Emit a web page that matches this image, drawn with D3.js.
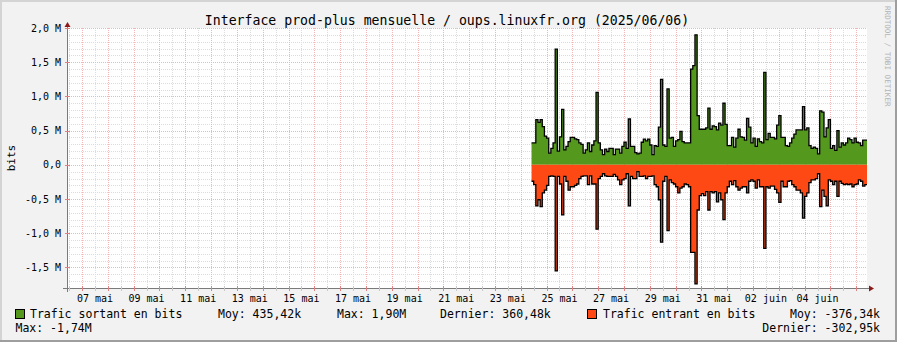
<!DOCTYPE html>
<html><head><meta charset="utf-8">
<script src="https://cdn.jsdelivr.net/npm/d3@7"></script>
<style>
body{margin:0;background:#F2F2F2}
svg{display:block}
text{font-family:"DejaVu Sans Mono",monospace;fill:#000}
</style>
</head><body>
<svg id="chart" width="897" height="342"></svg>
<script>
// ---------- data ----------
const chartTitle = "Interface prod-plus mensuelle / oups.linuxfr.org (2025/06/06)";
const yAxisTitle = "bits";
const watermark = "RRDTOOL / TOBI OETIKER";
const rangeStart = "2025-05-06T10:00:00Z";
const rangeEnd = "2025-06-06T10:00:00Z";
const firstSample = "2025-05-24T10:00:00Z";
const stepHours = 2;
// outgoing traffic, Mbit/s, one value per 2-hour step
const outValues = [
0.32,0.32,0.66,0.62,0.66,0.56,0.42,0.39,0.17,0.24,0.32,1.69,0.20,0.41,0.81,0.22,0.27,0.34,0.40,0.40,
0.38,0.37,0.32,0.30,0.17,0.22,0.32,0.195,0.29,0.35,1.06,0.32,0.22,0.15,0.23,0.195,0.24,0.24,0.15,0.23,
0.23,0.17,0.27,0.33,0.24,0.67,0.27,0.27,0.18,0.16,0.17,0.33,0.375,0.35,0.375,0.29,0.15,0.28,0.27,0.55,
1.25,0.29,0.27,1.11,0.39,0.40,0.27,0.35,0.37,0.49,0.34,0.32,0.32,0.32,1.40,1.45,1.90,0.72,0.52,0.52,
0.52,0.54,0.83,0.52,0.57,0.56,0.51,0.61,0.58,0.90,0.59,0.28,0.28,0.40,0.26,0.39,0.52,0.41,0.40,0.36,
0.68,0.55,0.32,0.39,0.27,0.38,0.34,0.32,1.35,0.37,0.46,0.40,0.40,0.38,0.58,0.72,0.40,0.40,0.28,0.27,
0.32,0.39,0.45,0.51,0.51,0.51,0.85,0.51,0.54,0.28,0.24,0.26,0.24,0.16,0.79,0.77,0.41,0.54,0.66,0.24,
0.28,0.21,0.50,0.26,0.32,0.29,0.32,0.39,0.37,0.32,0.39,0.33,0.32,0.28,0.36,0.36];
// incoming traffic (drawn negative), Mbit/s
const inValues = [
-0.24,-0.29,-0.60,-0.51,-0.61,-0.41,-0.37,-0.30,-0.17,-0.16,-0.17,-1.55,-0.17,-0.28,-0.73,-0.17,-0.24,-0.37,-0.32,-0.32,
-0.30,-0.28,-0.20,-0.17,-0.16,-0.16,-0.29,-0.16,-0.28,-0.28,-0.94,-0.20,-0.17,-0.13,-0.16,-0.17,-0.17,-0.17,-0.14,-0.17,
-0.22,-0.29,-0.22,-0.20,-0.13,-0.60,-0.17,-0.20,-0.20,-0.10,-0.17,-0.17,-0.16,-0.20,-0.17,-0.17,-0.16,-0.29,-0.32,-0.51,
-1.13,-0.24,-0.17,-0.96,-0.22,-0.26,-0.28,-0.32,-0.41,-0.34,-0.32,-0.28,-0.29,-0.32,-1.28,-1.28,-1.74,-0.66,-0.45,-0.42,
-0.45,-0.39,-0.66,-0.39,-0.41,-0.39,-0.54,-0.41,-0.51,-0.80,-0.41,-0.32,-0.24,-0.29,-0.23,-0.32,-0.37,-0.34,-0.32,-0.32,
-0.41,-0.24,-0.22,-0.24,-0.34,-0.22,-0.32,-0.32,-1.22,-0.32,-0.34,-0.31,-0.31,-0.36,-0.41,-0.55,-0.24,-0.32,-0.32,-0.24,
-0.23,-0.29,-0.32,-0.37,-0.37,-0.41,-0.78,-0.46,-0.41,-0.26,-0.22,-0.22,-0.20,-0.13,-0.61,-0.37,-0.46,-0.60,-0.22,-0.24,
-0.29,-0.24,-0.46,-0.24,-0.27,-0.29,-0.28,-0.29,-0.28,-0.32,-0.29,-0.28,-0.22,-0.24,-0.31,-0.29];
const yTickValues = [2.0,1.5,1.0,0.5,0,-0.5,-1.0,-1.5];
const yTickLabels = ["2,0 M","1,5 M","1,0 M","0,5 M","0,0","-0,5 M","-1,0 M","-1,5 M"];
const xTickDays = ["2025-05-07","2025-05-09","2025-05-11","2025-05-13","2025-05-15","2025-05-17","2025-05-19","2025-05-21",
                   "2025-05-23","2025-05-25","2025-05-27","2025-05-29","2025-05-31","2025-06-02","2025-06-04"];
const xTickLabels = ["07 mai","09 mai","11 mai","13 mai","15 mai","17 mai","19 mai","21 mai",
                     "23 mai","25 mai","27 mai","29 mai","31 mai","02 juin","04 juin"];
const seriesNames = ["Trafic sortant en bits","Trafic entrant en bits"];
const seriesColors = ["#54991E","#FF4915"];
const statsOut = ["Moy: 435,42k","Max: 1,90M","Dernier: 360,48k"];
const statsIn = ["Moy: -376,34k","Max: -1,74M","Dernier: -302,95k"];

// ---------- layout ----------
const W = 897, H = 342;
const plot = {left:67, right:867, top:28, bottom:288};
const svg = d3.select("#chart");

const x = d3.scaleUtc().domain([new Date(rangeStart), new Date(rangeEnd)]).range([plot.left, plot.right]);
const y = d3.scaleLinear().domain([-1.8, 2.0]).range([plot.bottom, plot.top]);
const px = v => Math.round(v) + 0.5;

// background + 3D border
svg.append("rect").attr("width",W).attr("height",H).attr("fill","#F2F2F2");
svg.append("rect").attr("x",0).attr("y",0).attr("width",W).attr("height",2).attr("fill","#D4D4D4");
svg.append("rect").attr("x",0).attr("y",0).attr("width",2).attr("height",H).attr("fill","#D4D4D4");
svg.append("rect").attr("x",0).attr("y",H-2).attr("width",W).attr("height",2).attr("fill","#9E9E9E");
svg.append("rect").attr("x",W-2).attr("y",0).attr("width",2).attr("height",H).attr("fill","#9E9E9E");

// canvas
svg.append("rect").attr("x",plot.left).attr("y",plot.top)
  .attr("width",plot.right-plot.left).attr("height",plot.bottom-plot.top).attr("fill","#FFFFFF");

// grid
const grid = svg.append("g").attr("stroke-dasharray","1,1").attr("stroke-width",1).attr("fill","none");
const minorY = d3.range(-17,21).map(k=>k/10).filter(v=>Math.abs(Math.round(v*10)%5)!==0);
const majorY = d3.range(-3,5).map(k=>k/2);
grid.selectAll(".hmin").data(minorY).enter().append("line")
  .attr("x1",plot.left).attr("x2",plot.right).attr("y1",d=>px(y(d))).attr("y2",d=>px(y(d)))
  .attr("stroke","#DCDCDC");
const tStart = new Date(rangeStart), tEnd = new Date(rangeEnd);
const halfDays = d3.utcHour.every(12).range(tStart, tEnd).filter(t=>t>tStart);
const noons = halfDays.filter(t=>t.getUTCHours()===12);
const midnights = halfDays.filter(t=>t.getUTCHours()===0);
grid.selectAll(".vmin").data(noons).enter().append("line")
  .attr("x1",d=>px(x(d))).attr("x2",d=>px(x(d))).attr("y1",plot.top).attr("y2",plot.bottom)
  .attr("stroke","#DCDCDC");
grid.selectAll(".vmaj").data(midnights).enter().append("line")
  .attr("x1",d=>px(x(d))).attr("x2",d=>px(x(d))).attr("y1",plot.top).attr("y2",plot.bottom)
  .attr("stroke","#F2B4B4");
grid.selectAll(".hmaj").data(majorY).enter().append("line")
  .attr("x1",plot.left).attr("x2",plot.right).attr("y1",d=>px(y(d))).attr("y2",d=>px(y(d)))
  .attr("stroke","#F2B4B4");

// data
const t0 = new Date(firstSample).getTime();
function toSteps(vals){
  const pts = vals.map((v,i)=>({t:new Date(t0+i*stepHours*3600e3), v}));
  pts.push({t:new Date(t0+vals.length*stepHours*3600e3), v:vals[vals.length-1]});
  return pts;
}
const area = d3.area().x(d=>x(d.t)).y0(y(0)).y1(d=>y(d.v)).curve(d3.curveStepAfter);
const line = d3.line().x(d=>x(d.t)).y(d=>y(d.v)).curve(d3.curveStepAfter);
[outValues,inValues].forEach((vals,k)=>{
  const pts = toSteps(vals);
  svg.append("path").attr("d",area(pts)).attr("fill",seriesColors[k]);
});
[outValues,inValues].forEach((vals,k)=>{
  const pts = toSteps(vals);
  svg.append("path").attr("d",line(pts)).attr("fill","none").attr("stroke","#000").attr("stroke-width",1.3);
});

// axes
const axisColor = "#7A7A7A", arrowColor = "#8C1A1A";
svg.append("line").attr("x1",plot.left-4).attr("x2",plot.right+4).attr("y1",plot.bottom+0.5).attr("y2",plot.bottom+0.5)
  .attr("stroke",axisColor);
svg.append("line").attr("x1",plot.left+0.5).attr("x2",plot.left+0.5).attr("y1",plot.bottom+4).attr("y2",plot.top-4)
  .attr("stroke",axisColor);
svg.append("path").attr("d",`M${plot.right+2},${plot.bottom-2.5}L${plot.right+7},${plot.bottom+0.5}L${plot.right+2},${plot.bottom+3.5}Z`).attr("fill",arrowColor);
svg.append("path").attr("d",`M${plot.left-2.5},${plot.top-1}L${plot.left+0.5},${plot.top-6}L${plot.left+3.5},${plot.top-1}Z`).attr("fill",arrowColor);
// x ticks
svg.selectAll(".xt").data(halfDays).enter().append("line")
  .attr("x1",d=>px(x(d))).attr("x2",d=>px(x(d))).attr("y1",plot.bottom-2).attr("y2",plot.bottom+3)
  .attr("stroke",d=>d.getUTCHours()===0?"#E08080":"#C8C8C8");
// y ticks
svg.selectAll(".yt").data(majorY).enter().append("line")
  .attr("x1",plot.left-2).attr("x2",plot.left+3).attr("y1",d=>px(y(d))).attr("y2",d=>px(y(d)))
  .attr("stroke","#E08080");

// y labels
svg.selectAll(".yl").data(yTickValues).enter().append("text")
  .attr("x",61).attr("y",d=>y(d)).attr("dy","0.36em").attr("text-anchor","end")
  .attr("font-size","10px").text((d,i)=>yTickLabels[i]);
// x labels at noon of the listed days
svg.selectAll(".xl").data(xTickDays).enter().append("text")
  .attr("x",d=>x(new Date(d+"T12:00:00Z"))).attr("y",302).attr("text-anchor","middle")
  .attr("font-size","10px").text((d,i)=>xTickLabels[i]);

// titles
svg.append("text").attr("x",447).attr("y",24.5).attr("text-anchor","middle").attr("font-size","13.2px").text(chartTitle);
svg.append("text").attr("transform","translate(15,158) rotate(-90)").attr("text-anchor","middle")
  .attr("font-size","11px").text(yAxisTitle);
svg.append("text").attr("transform","translate(885,6) rotate(90)").attr("text-anchor","start")
  .attr("font-size","7.6px").style("fill","#B4B4B4").text(watermark);

// legend
const fs = "11.5px";
function swatch(xp,yp,c){ svg.append("rect").attr("x",xp+0.5).attr("y",yp+0.5).attr("width",9).attr("height",9)
  .attr("fill",c).attr("stroke","#000").attr("stroke-width",1); }
swatch(15,309,seriesColors[0]);
svg.append("text").attr("x",30).attr("y",318).attr("font-size",fs).text(seriesNames[0]);
svg.append("text").attr("x",218).attr("y",318).attr("font-size",fs).text(statsOut[0]);
svg.append("text").attr("x",337).attr("y",318).attr("font-size",fs).text(statsOut[1]);
svg.append("text").attr("x",440).attr("y",318).attr("font-size",fs).text(statsOut[2]);
swatch(587,309,seriesColors[1]);
svg.append("text").attr("x",603).attr("y",318).attr("font-size",fs).text(seriesNames[1]);
svg.append("text").attr("x",880).attr("y",318).attr("text-anchor","end").attr("font-size",fs).text(statsIn[0]);
svg.append("text").attr("x",15.5).attr("y",332).attr("font-size",fs).text(statsIn[1]);
svg.append("text").attr("x",880).attr("y",332).attr("text-anchor","end").attr("font-size",fs).text(statsIn[2]);
</script>
</body></html>
